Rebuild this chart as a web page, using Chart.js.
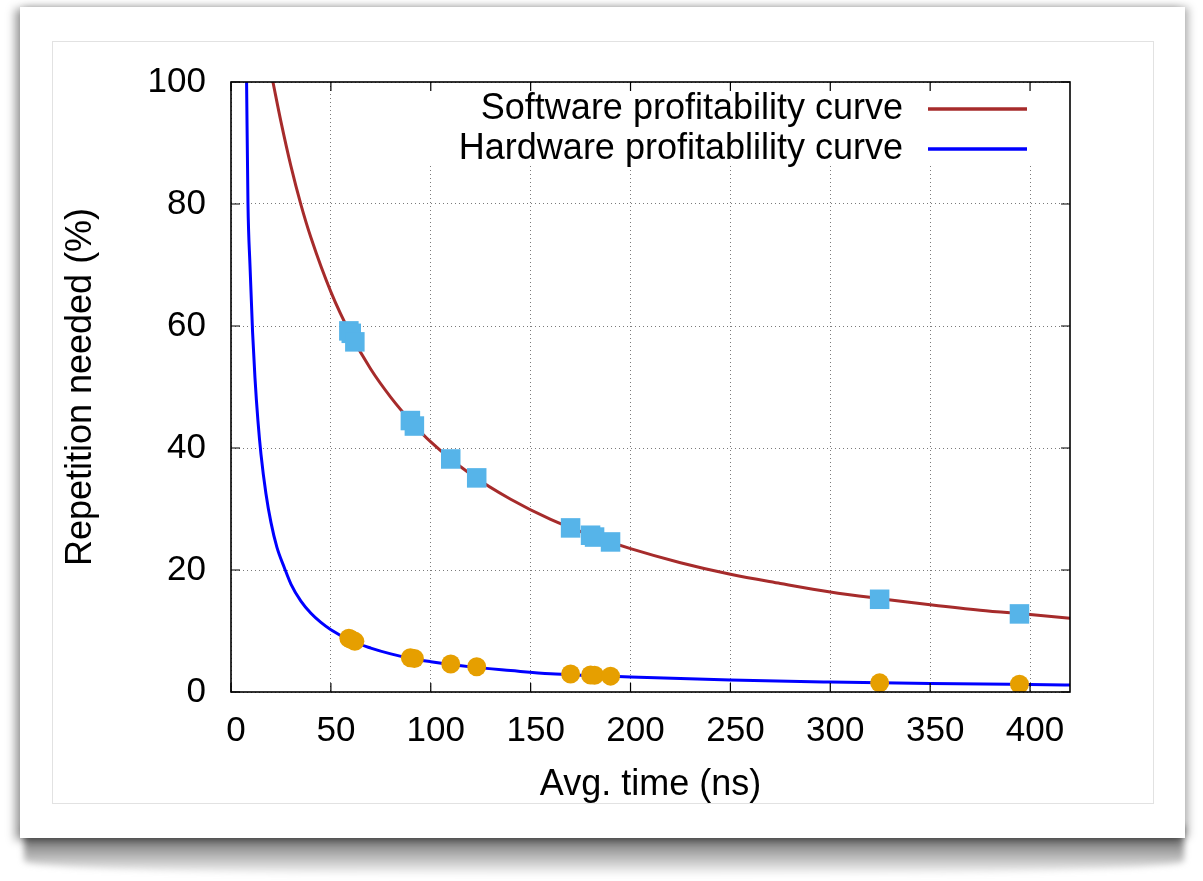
<!DOCTYPE html>
<html>
<head>
<meta charset="utf-8">
<script src="https://cdn.jsdelivr.net/npm/chart.js@4.4.1/dist/chart.umd.min.js"></script>
<style>
html, body { margin: 0; padding: 0; background: #fff; }
body { width: 1203px; height: 881px; position: relative; overflow: hidden; }
#curl { position: absolute; left: 24px; top: 826px; width: 1160px; height: 50px;
        background: linear-gradient(#5e5e5e, rgba(120,120,120,0.75) 45%, rgba(255,255,255,0));
        border-radius: 0 0 50% 50% / 0 0 30% 30%; filter: blur(3px); }
#card { position: absolute; left: 20px; top: 7px; width: 1165px; height: 831px; background: #fff;
        box-shadow: -5px 2px 9px rgba(0,0,0,0.38), 4px 0 8px rgba(0,0,0,0.25); }
#frame { position: absolute; left: 32px; top: 34px; width: 1102px; height: 763px;
         box-sizing: border-box; border: 1px solid #e2e2e2; }
#frame canvas { position: absolute; left: 0; top: 0; }
</style>
</head>
<body>
<div id="curl"></div>
<div id="card">
  <div id="frame"><canvas id="chart" width="1100" height="761"></canvas></div>
</div>
<script>
const FONT = '"Liberation Sans", Arial, sans-serif';
const RED = '#a62b2b';
const BLUE = '#0000ff';
const SQUARE_COLOR = '#56b4e9';
const CIRCLE_COLOR = '#e69f00';

// software profitability curve
const SW_X = [21, 25, 30, 35, 40, 50, 60, 70, 80, 90, 100, 120, 140, 160, 180, 200, 225, 250, 275, 300, 325, 350, 375, 400, 420];
const SW_Y = [100, 93.5, 86.2, 79.9, 74.5, 65.6, 58.6, 52.9, 48.3, 44.4, 41.0, 35.7, 31.6, 28.3, 25.7, 23.5, 21.2, 19.3, 17.8, 16.4, 15.3, 14.3, 13.4, 12.7, 12.1];

// hardware profitability curve
const HW_X = [7.8, 8.5, 9.5, 10.8, 12, 13.5, 15, 17.5, 20, 23, 26.8, 30, 35, 40, 45, 50, 60, 70, 80, 90, 100, 120, 140, 160, 180, 200, 250, 300, 350, 400, 420];
const HW_Y = [100, 80, 70, 59, 51.5, 44.4, 39, 32.5, 27.8, 23.7, 20.3, 17.7, 14.9, 12.9, 11.4, 10.2, 8.4, 7.2, 6.25, 5.5, 4.97, 4.12, 3.52, 2.98, 2.72, 2.45, 1.95, 1.63, 1.39, 1.22, 1.16];

// measured points
const MEAS_X = [59, 60.2, 62, 89.8, 91.8, 110, 123, 170, 180, 182, 190, 324.7, 394.7];
const SW_MEAS = [59.2, 58.8, 57.4, 44.5, 43.6, 38.2, 35.1, 26.9, 25.7, 25.4, 24.6, 15.2, 12.8];
const HW_MEAS = [8.8, 8.6, 8.3, 5.6, 5.5, 4.6, 4.15, 2.95, 2.8, 2.75, 2.6, 1.5, 1.26];

const X_TICKS = [0, 50, 100, 150, 200, 250, 300, 350, 400];
const Y_TICKS = [0, 20, 40, 60, 80, 100];

const LEGEND_LABELS = ['Software profitability curve', 'Hardware profitablility curve'];

function pts(xs, ys) {
    return xs.map((x, i) => ({ x: x, y: ys[i] }));
}

// gnuplot style: inward ticks on all four sides, full border, opaque key box
const gnuplotFrame = {
    id: 'gnuplotFrame',
    afterDraw(chart) {
        const ctx = chart.ctx;
        const a = chart.chartArea;
        const sx = chart.scales.x, sy = chart.scales.y;
        ctx.save();

        // key
        ctx.fillStyle = '#fff';
        ctx.fillRect(a.right - 645, a.top + 4, 643, 78);
        ctx.font = '36px ' + FONT;
        ctx.textAlign = 'right';
        ctx.textBaseline = 'middle';
        const curves = chart.data.datasets.filter(d => d.type === 'line');
        curves.forEach((d, i) => {
            const y = a.top + 27 + i * 40;
            ctx.fillStyle = '#000';
            ctx.fillText(LEGEND_LABELS[i], a.right - 167, y);
            ctx.strokeStyle = d.borderColor;
            ctx.lineWidth = 3.5;
            ctx.beginPath();
            ctx.moveTo(a.right - 142, y);
            ctx.lineTo(a.right - 43, y);
            ctx.stroke();
        });

        ctx.strokeStyle = '#000';
        ctx.lineWidth = 1.2;
        ctx.beginPath();
        X_TICKS.forEach(v => {
            const px = sx.getPixelForValue(v);
            ctx.moveTo(px, a.bottom); ctx.lineTo(px, a.bottom - 9);
            ctx.moveTo(px, a.top); ctx.lineTo(px, a.top + 9);
        });
        Y_TICKS.forEach(v => {
            const py = sy.getPixelForValue(v);
            ctx.moveTo(a.left, py); ctx.lineTo(a.left + 9, py);
            ctx.moveTo(a.right, py); ctx.lineTo(a.right - 9, py);
        });
        ctx.stroke();

        ctx.lineWidth = 1.6;
        ctx.strokeRect(a.left, a.top, a.right - a.left, a.bottom - a.top);
        ctx.restore();
    }
};

new Chart(document.getElementById('chart'), {
    type: 'scatter',
    data: {
        datasets: [
            {
                label: 'Software measurements',
                data: pts(MEAS_X, SW_MEAS),
                pointStyle: 'rect',
                pointRadius: 13.8,
                backgroundColor: SQUARE_COLOR,
                borderWidth: 0,
            },
            {
                label: 'Hardware measurements',
                data: pts(MEAS_X, HW_MEAS),
                pointStyle: 'circle',
                pointRadius: 9.5,
                backgroundColor: CIRCLE_COLOR,
                borderWidth: 0,
            },
            {
                type: 'line',
                label: LEGEND_LABELS[0],
                data: pts(SW_X, SW_Y),
                borderColor: RED,
                borderWidth: 3,
                pointRadius: 0,
                cubicInterpolationMode: 'monotone',
                fill: false,
            },
            {
                type: 'line',
                label: LEGEND_LABELS[1],
                data: pts(HW_X, HW_Y),
                borderColor: BLUE,
                borderWidth: 3,
                pointRadius: 0,
                cubicInterpolationMode: 'monotone',
                fill: false,
            }
        ]
    },
    options: {
        responsive: false,
        animation: false,
        events: [],
        layout: { padding: { top: 40, right: 83, left: 0, bottom: 0 } },
        plugins: {
            legend: { display: false },
            tooltip: { enabled: false }
        },
        scales: {
            x: {
                type: 'linear',
                min: 0,
                max: 420,
                afterBuildTicks: s => { s.ticks = X_TICKS.map(v => ({ value: v })); },
                afterFit: s => { s.height = 111; },
                grid: { color: '#7a7a7a', lineWidth: 1, drawTicks: false },
                border: { display: false, dash: [1, 3] },
                ticks: { color: '#000', font: { family: FONT, size: 35 }, padding: 18, labelOffset: 5, maxRotation: 0 },
                title: {
                    display: true,
                    text: 'Avg. time (ns)',
                    color: '#000',
                    font: { family: FONT, size: 36, lineHeight: 1 },
                    padding: { top: 0, bottom: 0 }
                }
            },
            y: {
                min: 0,
                max: 100,
                afterBuildTicks: s => { s.ticks = Y_TICKS.map(v => ({ value: v })); },
                afterFit: s => { s.width = 178; },
                grid: { color: '#7a7a7a', lineWidth: 1, drawTicks: true, tickLength: 22, tickColor: 'rgba(0,0,0,0)' },
                border: { display: false, dash: [1, 3] },
                ticks: { color: '#000', font: { family: FONT, size: 35 }, padding: 3 },
                title: {
                    display: true,
                    text: 'Repetition needed (%)',
                    color: '#000',
                    font: { family: FONT, size: 36, lineHeight: 1 },
                    padding: { top: 10, bottom: 0 }
                }
            }
        }
    },
    plugins: [gnuplotFrame]
});
</script>
</body>
</html>
